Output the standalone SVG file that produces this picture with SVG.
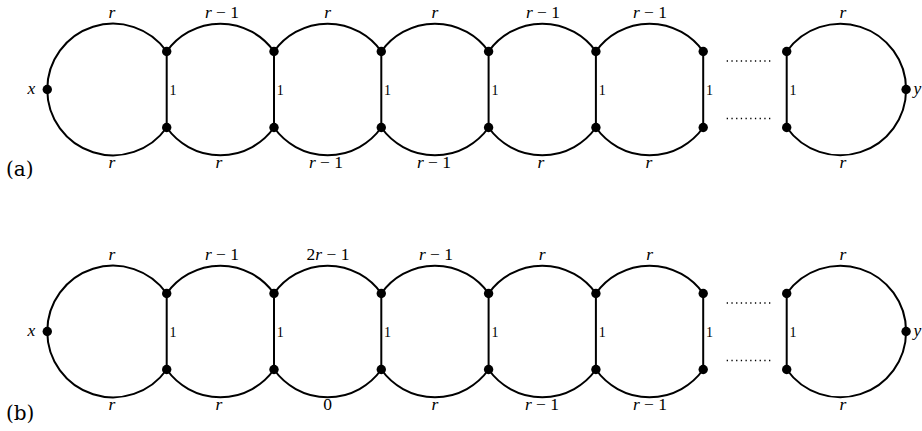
<svg xmlns="http://www.w3.org/2000/svg" width="922" height="431" viewBox="0 0 922 431">
<style>
.e{fill:none;stroke:#000;stroke-width:2}
.d{fill:none;stroke:#000;stroke-width:1.4;stroke-dasharray:1.3 3.4}
.dot{fill:#000}
text{font-family:'Liberation Serif',serif;fill:#000}
.t{font-size:17.5px;text-anchor:middle}
.i{font-style:italic}
.one{font-size:14px}
.cap{font-size:20px;font-family:'DejaVu Serif',serif}
</style>
<defs>
<g id="chain">
<g class="connectors">
<path class="e" d="M47.26 89.5A65.74 65.74 0 0 1 166.7 51.5M47.26 89.5A65.74 65.74 0 0 0 166.7 127.5"/>
<path class="e" d="M166.7 51.5A65.74 65.74 0 0 1 274 51.5M166.7 127.5A65.74 65.74 0 0 0 274 127.5"/>
<path class="e" d="M274 51.5A65.74 65.74 0 0 1 381.3 51.5M274 127.5A65.74 65.74 0 0 0 381.3 127.5"/>
<path class="e" d="M381.3 51.5A65.74 65.74 0 0 1 488.6 51.5M381.3 127.5A65.74 65.74 0 0 0 488.6 127.5"/>
<path class="e" d="M488.6 51.5A65.74 65.74 0 0 1 595.9 51.5M488.6 127.5A65.74 65.74 0 0 0 595.9 127.5"/>
<path class="e" d="M595.9 51.5A65.74 65.74 0 0 1 703.2 51.5M595.9 127.5A65.74 65.74 0 0 0 703.2 127.5"/>
<path class="e" d="M786.7 51.5A65.74 65.74 0 0 1 906.09 89.5M786.7 127.5A65.74 65.74 0 0 0 906.09 89.5"/>
<path class="e" d="M166.7 51.5V127.5M274 51.5V127.5M381.3 51.5V127.5M488.6 51.5V127.5M595.9 51.5V127.5M703.2 51.5V127.5M786.7 51.5V127.5"/>
<path class="d" d="M726.7 61H773.3M726.7 118.5H773.3"/>
<text class="one" x="169.5" y="94.5">1</text>
<text class="one" x="276.8" y="94.5">1</text>
<text class="one" x="384.1" y="94.5">1</text>
<text class="one" x="491.4" y="94.5">1</text>
<text class="one" x="598.7" y="94.5">1</text>
<text class="one" x="706" y="94.5">1</text>
<text class="one" x="789.5" y="94.5">1</text>
</g>
<g id="n-x"><circle class="dot" cx="47.26" cy="89.5" r="4.7"/><text class="t i" x="31.5" y="94">x</text></g>
<g id="n-y"><circle class="dot" cx="906.09" cy="89.5" r="4.7"/><text class="t i" x="917.5" y="94">y</text></g>
<g id="n-1"><circle class="dot" cx="166.7" cy="51.5" r="4.7"/><circle class="dot" cx="166.7" cy="127.5" r="4.7"/></g>
<g id="n-2"><circle class="dot" cx="274" cy="51.5" r="4.7"/><circle class="dot" cx="274" cy="127.5" r="4.7"/></g>
<g id="n-3"><circle class="dot" cx="381.3" cy="51.5" r="4.7"/><circle class="dot" cx="381.3" cy="127.5" r="4.7"/></g>
<g id="n-4"><circle class="dot" cx="488.6" cy="51.5" r="4.7"/><circle class="dot" cx="488.6" cy="127.5" r="4.7"/></g>
<g id="n-5"><circle class="dot" cx="595.9" cy="51.5" r="4.7"/><circle class="dot" cx="595.9" cy="127.5" r="4.7"/></g>
<g id="n-6"><circle class="dot" cx="703.2" cy="51.5" r="4.7"/><circle class="dot" cx="703.2" cy="127.5" r="4.7"/></g>
<g id="n-7"><circle class="dot" cx="786.7" cy="51.5" r="4.7"/><circle class="dot" cx="786.7" cy="127.5" r="4.7"/></g>
</g>
</defs>

<g id="panel-a">
<use href="#chain"/>
<g id="labels-a">
<text class="t i" x="112" y="18">r</text>
<text class="t" x="222" y="18"><tspan class="i">r</tspan> − 1</text>
<text class="t i" x="327.65" y="18">r</text>
<text class="t i" x="434.95" y="18">r</text>
<text class="t" x="543" y="18"><tspan class="i">r</tspan> − 1</text>
<text class="t" x="650" y="18"><tspan class="i">r</tspan> − 1</text>
<text class="t i" x="843" y="18">r</text>
<text class="t i" x="112" y="168">r</text>
<text class="t i" x="219" y="168">r</text>
<text class="t" x="326" y="168"><tspan class="i">r</tspan> − 1</text>
<text class="t" x="434" y="168"><tspan class="i">r</tspan> − 1</text>
<text class="t i" x="541" y="168">r</text>
<text class="t i" x="649" y="168">r</text>
<text class="t i" x="843" y="168">r</text>
</g>
<text class="cap" x="6" y="176">(a)</text>
</g>

<g id="panel-b" transform="translate(0,242)">
<use href="#chain"/>
<g id="labels-b">
<text class="t i" x="112" y="18">r</text>
<text class="t" x="222" y="18"><tspan class="i">r</tspan> − 1</text>
<text class="t" x="328" y="18">2<tspan class="i">r</tspan> − 1</text>
<text class="t" x="436" y="18"><tspan class="i">r</tspan> − 1</text>
<text class="t i" x="542.25" y="18">r</text>
<text class="t i" x="649.55" y="18">r</text>
<text class="t i" x="843" y="18">r</text>
<text class="t i" x="112" y="168">r</text>
<text class="t i" x="219" y="168">r</text>
<text class="t" x="327.65" y="168">0</text>
<text class="t i" x="434.95" y="168">r</text>
<text class="t" x="542" y="168"><tspan class="i">r</tspan> − 1</text>
<text class="t" x="650" y="168"><tspan class="i">r</tspan> − 1</text>
<text class="t i" x="843" y="168">r</text>
</g>
<text class="cap" x="6" y="178">(b)</text>
</g>
</svg>
